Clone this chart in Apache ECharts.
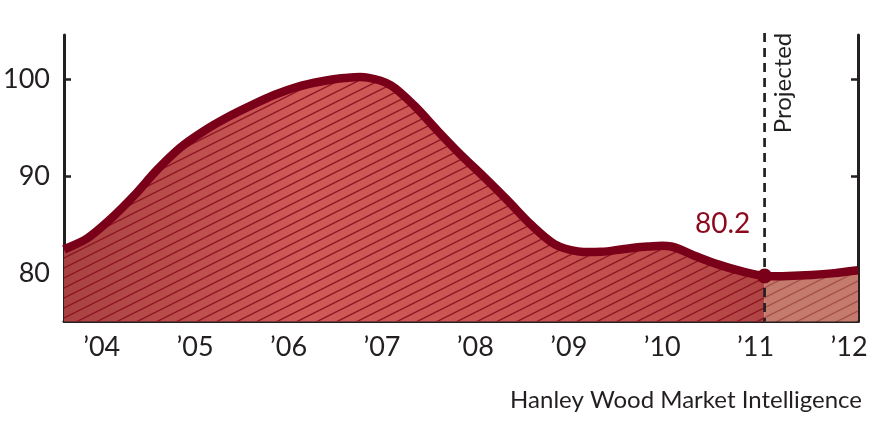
<!DOCTYPE html>
<html>
<head>
<meta charset="utf-8">
<script src="https://cdn.jsdelivr.net/npm/echarts@6/dist/echarts.min.js"></script>
<style>
html,body{margin:0;padding:0;background:#fff;}
#chart{width:876px;height:433px;}
</style>
</head>
<body>
<div id="chart"></div>
<script>
// ---- data (quarterly readings) ----
const actualPeriods = [2004.0, 2004.25, 2004.5, 2004.75, 2005.0, 2005.25, 2005.5, 2005.75, 2006.0, 2006.25, 2006.5, 2006.75, 2007.0, 2007.25, 2007.5, 2007.75, 2008.0, 2008.25, 2008.5, 2008.75, 2009.0, 2009.25, 2009.5, 2009.75, 2010.0, 2010.25, 2010.5, 2010.75, 2011.0, 2011.25, 2011.5];
const actualValues = [82.45, 83.6, 85.6, 88.0, 90.7, 93.0, 94.7, 96.1, 97.3, 98.4, 99.25, 99.8, 100.15, 100.2, 99.4, 97.3, 94.7, 92.2, 89.9, 87.5, 85.0, 83.0, 82.25, 82.2, 82.5, 82.75, 82.75, 81.8, 80.9, 80.2, 79.7];
const projectedPeriods = [2011.5, 2011.75, 2012.0, 2012.25, 2012.5];
const projectedValues = [79.7, 79.7, 79.8, 80.0, 80.3];
const yearTickLabels = ["\u201904", "\u201905", "\u201906", "\u201907", "\u201908", "\u201909", "\u201910", "\u201911", "\u201912"];
const yearLabelPositions = [2004.5, 2005.5, 2006.5, 2007.5, 2008.5, 2009.5, 2010.5, 2011.5, 2012.5];
const yearBoundaries = [2005, 2006, 2007, 2008, 2009, 2010, 2011, 2012];
const yTicks = [80, 90, 100];
const yMin = 75, yMax = 104.6;
const highlightPeriod = 2011.5;
const highlightValue = 79.7;
const highlightLabel = "80.2";
const projectedText = "Projected";
const sourceText = "Hanley Wood Market Intelligence";

// ---- patterns ----
function hatch(bg, lineColor) {
  const c = document.createElement('canvas');
  c.width = 20; c.height = 10;
  const g = c.getContext('2d');
  if (bg) { g.fillStyle = bg; g.fillRect(0, 0, 20, 10); }
  g.strokeStyle = lineColor;
  g.lineWidth = 1.4;
  for (let k = -1; k <= 1; k++) {
    g.beginPath();
    g.moveTo(-2, 11 + 10 * k);
    g.lineTo(22, -1 + 10 * k);
    g.stroke();
  }
  return c;
}
const hatchDark = hatch(null, '#8e1622');
const hatchProj = hatch('#c47a6c', '#a6504a');

const pair = (xs, ys) => xs.map((x, i) => [x, ys[i]]);
const actualData = pair(actualPeriods, actualValues);
const projData = pair(projectedPeriods, projectedValues);
const allData = actualData.concat(projData.slice(1));
const splitIndex = actualData.length - 1;

const axisColor = '#231f20';
const lineColor = '#7a0019';
const font = 'Lato, "Open Sans", sans-serif';

// Catmull-Rom -> cubic bezier segments over pixel points
function bezierSegs(p) {
  const segs = [];
  for (let i = 0; i < p.length - 1; i++) {
    const p0 = p[Math.max(0, i - 1)], p1 = p[i], p2 = p[i + 1], p3 = p[Math.min(p.length - 1, i + 2)];
    segs.push([p1, [p1[0] + (p2[0] - p0[0]) / 6, p1[1] + (p2[1] - p0[1]) / 6],
                   [p2[0] - (p3[0] - p1[0]) / 6, p2[1] - (p3[1] - p1[1]) / 6], p2]);
  }
  return segs;
}
function curvePath(segs, from, to) {
  let d = 'M' + segs[from][0][0] + ' ' + segs[from][0][1];
  for (let i = from; i < to; i++) {
    const s = segs[i];
    d += ' C' + s[1][0] + ' ' + s[1][1] + ' ' + s[2][0] + ' ' + s[2][1] + ' ' + s[3][0] + ' ' + s[3][1];
  }
  return d;
}

function renderCurve(params, api) {
  const pts = allData.map(d => api.coord(d));
  const segs = bezierSegs(pts);
  const base = api.coord([allData[0][0], yMin])[1];
  const top = api.coord([highlightPeriod, yMax])[1];
  const xStart = pts[0][0], xSplit = pts[splitIndex][0], xEnd = pts[pts.length - 1][0];
  const actualArea = curvePath(segs, 0, splitIndex) + ' L' + xSplit + ' ' + base + ' L' + xStart + ' ' + base + ' Z';
  const projArea = curvePath(segs, splitIndex, segs.length) + ' L' + xEnd + ' ' + base + ' L' + xSplit + ' ' + base + ' Z';
  return {
    type: 'group',
    children: [
      { type: 'path', shape: { pathData: actualArea }, style: {
          fill: new echarts.graphic.LinearGradient(0, 0, 1, 0, [
            { offset: 0, color: '#a84242' },
            { offset: 0.34, color: '#cf5a58' },
            { offset: 0.62, color: '#c95553' },
            { offset: 0.84, color: '#c04e4d' },
            { offset: 1, color: '#b04444' }
          ]) } },
      { type: 'path', shape: { pathData: actualArea }, style: { fill: { image: hatchDark, repeat: 'repeat' } } },
      { type: 'path', shape: { pathData: projArea }, style: { fill: { image: hatchProj, repeat: 'repeat' } } },
      { type: 'line', shape: { x1: xSplit, y1: top - 2, x2: xSplit, y2: base },
        style: { stroke: axisColor, lineWidth: 2.7, lineDash: [9, 6] } },
      { type: 'path', shape: { pathData: curvePath(segs, 0, segs.length) },
        style: { fill: 'none', stroke: lineColor, lineWidth: 8.5, lineJoin: 'round' } }
    ]
  };
}

const chart = echarts.init(document.getElementById('chart'));
chart.setOption({
  animation: false,
  grid: { left: 62, right: 18, top: 35, bottom: 111.5 },
  xAxis: {
    type: 'value', min: 2004, max: 2012.5,
    axisLine: { show: true, lineStyle: { color: axisColor, width: 3 } },
    axisTick: { show: true, inside: true, length: 9, lineStyle: { color: axisColor, width: 2.2 }, customValues: yearBoundaries },
    axisLabel: {
      customValues: yearLabelPositions,
      formatter: v => yearTickLabels[Math.round(v - 2004.5)] || '',
      color: axisColor, fontFamily: font, fontSize: 27, margin: 12,
      padding: [0, 18, 0, 0]
    },
    splitLine: { show: false }
  },
  yAxis: [{
    type: 'value', min: yMin, max: yMax, position: 'left',
    axisLine: { show: true, lineStyle: { color: axisColor, width: 3 } },
    axisTick: { show: true, inside: true, length: 7, lineStyle: { color: axisColor, width: 2.5 }, customValues: yTicks },
    axisLabel: { customValues: yTicks, color: axisColor, fontFamily: font, fontSize: 27, margin: 14 },
    splitLine: { show: false }
  }, {
    type: 'value', min: yMin, max: yMax, position: 'right',
    axisLine: { show: true, lineStyle: { color: axisColor, width: 3 } },
    axisTick: { show: true, inside: true, length: 7, lineStyle: { color: axisColor, width: 2.5 }, customValues: yTicks },
    axisLabel: { show: false },
    splitLine: { show: false }
  }],
  series: [
    {
      type: 'custom', z: 2, silent: true,
      data: [[highlightPeriod, highlightValue]],
      renderItem: renderCurve
    },
    {
      type: 'scatter', z: 6,
      data: [[highlightPeriod, highlightValue]],
      symbol: 'circle', symbolSize: 15,
      itemStyle: { color: lineColor, opacity: 1 },
      label: {
        show: true, formatter: highlightLabel, position: 'inside', offset: [-42, -52],
        color: '#8b0a1e', opacity: 1, fontFamily: font, fontSize: 28
      }
    }
  ],
  graphic: [
    {
      type: 'text', x: 783, y: 83, rotation: Math.PI / 2,
      style: { text: projectedText, fill: axisColor, font: '24px ' + font, textAlign: 'center', textVerticalAlign: 'middle' }
    },
    {
      type: 'text', x: 862, y: 400,
      style: { text: sourceText, fill: axisColor, font: '24px ' + font, textAlign: 'right', textVerticalAlign: 'middle' }
    }
  ]
});
</script>
</body>
</html>
